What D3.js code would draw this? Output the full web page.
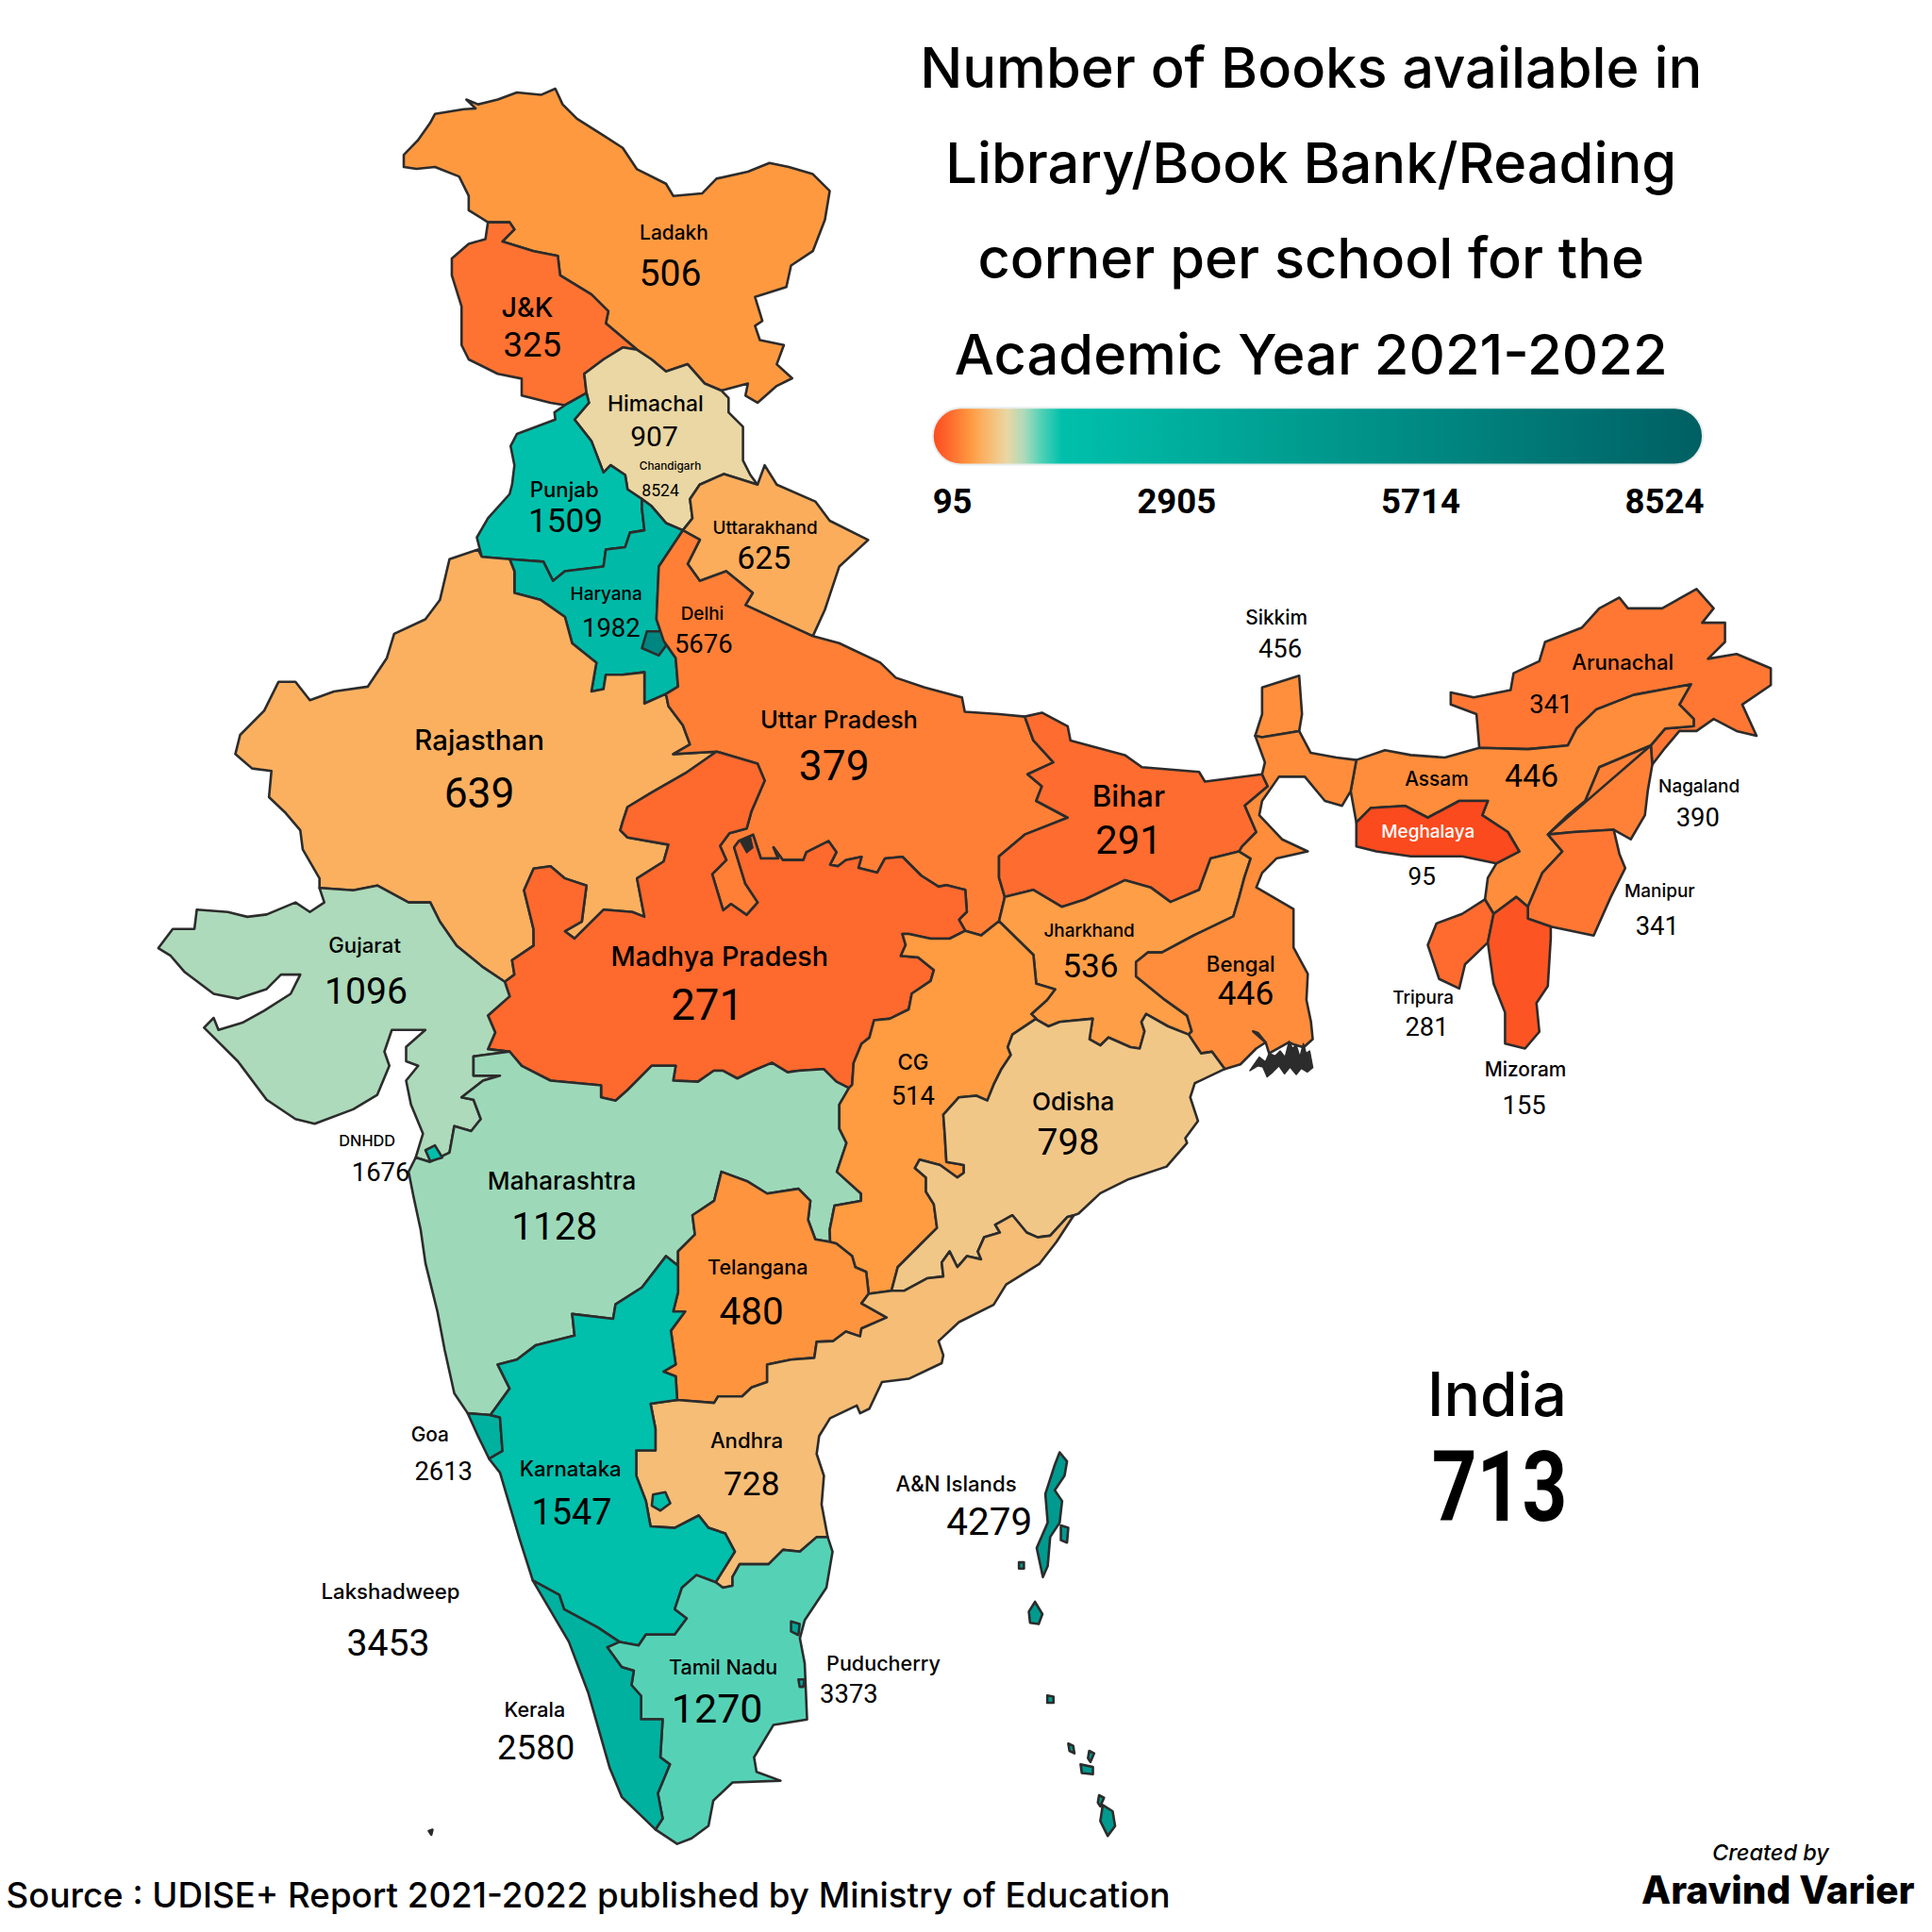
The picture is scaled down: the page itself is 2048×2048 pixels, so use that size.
<!DOCTYPE html>
<html><head><meta charset="utf-8">
<script src="https://cdn.jsdelivr.net/npm/d3@7"></script>
<style>html,body{margin:0;background:#fff}svg{display:block}text{font-family:Inter,Lato,sans-serif;fill:#000;font-weight:500}text.num{font-family:Roboto,Lato,sans-serif;font-weight:400}</style>
</head><body><div id="c"></div>
<script>
// ---------- data ----------
const regions=["Ladakh","J&K","Himachal","Chandigarh","Punjab","Uttarakhand","Haryana","Delhi","Rajasthan","Uttar Pradesh","Sikkim","Arunachal","Assam","Nagaland","Meghalaya","Manipur","Bihar","Jharkhand","Bengal","Tripura","Mizoram","Madhya Pradesh","Gujarat","Maharashtra","CG","Odisha","Telangana","DNHDD","Goa","Andhra","Karnataka","Lakshadweep","A&N Islands","Tamil Nadu","Puducherry","Kerala"];
const books=[506,325,907,8524,1509,625,1982,5676,639,379,456,341,446,390,95,341,291,536,446,281,155,271,1096,1128,514,798,480,1676,2613,728,1547,3453,4279,1270,3373,2580];
const legendTicks=[95,2905,5714,8524];
const colorStops=[95,300,510,640,907,1096,1270,1509,8524];
const colorRange=["#fb4a1e","#ff6e30","#ff9a40","#fbb060","#ead7a3","#addaba","#55d2b6","#00c0ab","#005f63"];
const titleLines=["Number of Books available in","Library/Book Bank/Reading","corner per school for the","Academic Year 2021-2022"];
const indiaValue=713;

// ---------- boundary arcs, in map units ----------
const LA_OUT=[[396,180.4],[380.4,170.6],[380.4,159],[372.6,143.3],[353,135.5],[338,137],[327.7,135.5],[327.7,125.7],[339,114],[349,100],[353,92.5],[376.5,88.6],[386,88],[378.5,80.8],[388,84.7],[404,80.8],[419.5,75],[439,77],[450.7,72],[456.6,84.7],[468.3,96.4],[489.8,110],[505.4,120],[517,137.4],[540.5,149.1],[546.4,159],[569.8,157],[581.5,145],[607,139.4],[624.5,132.3],[640.2,135.5],[659.7,141.3],[673.4,155],[669.5,178.4],[659.7,203.8],[642,215.5],[638.2,233],[612.8,241],[618.7,260.5],[612.8,264.4],[616.7,276],[636.2,280],[630.4,295.6],[642.9,307],[630.4,313.2],[614.8,326.9],[605,321],[607,311.2],[585.5,317]];
const LA_HP=[[585.5,317],[571.8,311.2],[558.1,295.6],[540.5,301.5],[528.8,291.7],[517.1,283.9]];
const LA_JK=[[517.1,283.9],[491.7,262.4],[493.7,252.6],[480,239],[454.6,223.4],[452.7,207.7],[433.1,203.8],[407.8,196],[417.5,186.2],[413.6,180.4],[396,180.4]];
const JK_OUT=[[396,180.4],[394,194],[380.4,198],[366.7,209.7],[366.7,223.4],[374.6,248.7],[374.6,280],[380.4,291.7],[403.9,303.4],[423.4,307.3],[423.4,321],[446.8,326.9],[458.5,328.8]];
const JK_PB=[[458.5,328.8],[476,319]];
const JK_HP=[[476,319],[474.2,303.4],[489.8,291.7],[505.4,282],[517.1,283.9]];
const HP_EAST=[[585.5,317],[591.3,323],[591.3,334.7],[603,346.4],[603,373.7],[609,385.5],[614.8,393.3]];
const HP_UK=[[614.8,393.3],[587.5,384.7],[567.9,393.3],[560,405],[562,420.6],[554.2,430.4]];
const HP_HR=[[554.2,430.4],[540.5,424.5],[528.8,410.8],[521,405]];
const HP_PB=[[521,405],[509.3,397.2],[507.4,385.5],[495.6,377.6],[489.8,383.5],[480,358],[466.3,340.5],[478,326.9],[476,319]];
const PB_HR=[[521,405],[521,412.8],[523,430.4],[511.3,432.3],[507.4,444],[491.7,446],[489.8,459.7],[458.5,463.6],[448.8,471.4],[441,455.8],[413.6,453.8]];
const PB_RJ=[[413.6,453.8],[391,451.9]];
const PB_OUT=[[391,451.9],[387,436.2],[396,420.6],[413.6,401],[415.6,393.3],[417.5,377.6],[414.4,362],[419.5,352.2],[450.7,340.5],[450,334.7],[458.5,328.8]];
const HR_RJ=[[413.6,453.8],[417.5,463.6],[417.5,481.2],[439,487],[458.5,500.7],[464.4,522.2],[484,537.8],[480,561.2],[489.8,559.3],[491.7,547.6],[505.4,547.6],[523,545.6],[523,571],[540.5,563.2]];
const HR_UP=[[540.5,563.2],[550.3,557.3],[548.4,534],[538.6,520],[532.8,502.6],[534.7,459.7],[554.2,430.4]];
const RJ_OUT=[[391,451.9],[388,446],[364.8,453.8],[357,487],[345.2,502.6],[319.9,514.4],[314,534],[298.4,557.3],[271,561.2],[251.5,568.3],[239.8,553.4],[226,553.4],[214.4,576.8],[194.9,596.4],[191,612],[204.6,623.7],[220.3,625.7],[218.3,647],[232,660],[243.7,673.8],[245.7,689.4],[259.3,712.9],[259.3,720.7]];
const RJ_GJ=[[259.3,720.7],[286.7,722.6],[306.2,718.7],[331.6,732.4],[349.2,732.4],[357,748],[370.6,767.5],[392.1,785.1],[409.7,796.8]];
const RJ_MP=[[409.7,796.8],[417.5,791],[415.6,779.3],[433.1,767.5],[433,754],[425.3,722.6],[433.1,705],[446.8,703],[458.5,712.9],[476,718.7],[472.2,748],[458.5,755.8],[466.3,761.7],[489.8,738.3],[513.2,740.2],[523,744.1],[517,712.9],[538.6,699.2],[542.5,685.5],[509.3,679.7],[503.4,673.8],[505.4,666.7],[509.3,655],[528.8,643.3],[556.2,627.6],[581.5,610]];
const RJ_UP=[[581.5,610],[546.4,612],[560,604.2],[554.2,588.6],[542.5,573],[540.5,563.2]];
const UK_OUT=[[614.8,393.3],[620.6,377.6],[630.4,393.3],[661.7,407],[673.4,422.6],[704.6,438.2],[681.2,459.7],[673.4,483],[669.5,494.8],[659.7,516.3]];
const UK_UP=[[659.7,516.3],[634.3,504.6],[605,491],[610.9,481.2],[589.4,463.6],[568,471.4],[558.1,457.7],[568,438],[554.2,430.4]];
const UP_N=[[659.7,516.3],[681,522],[714.4,537.8],[727,550],[750.5,558],[780.7,566],[783,577.7],[810.8,579.6],[831.7,581.6]];
const UP_BR=[[831.7,581.6],[838.7,601],[854.9,618.7],[834,628.4],[845.6,638.2],[841,650],[866.5,663.6],[831.7,677.3],[810.8,695],[810.8,712.4],[815.5,728]];
const UP_JH=[[815.5,728],[810.8,747.6]];
const UP_CG=[[810.8,747.6],[796.2,759.2],[783.4,755.4]];
const UP_MP=[[783.4,755.4],[778.3,746.4],[784.7,740],[783.4,722.2],[768.1,718.4],[761.7,719.6],[747.7,710.7],[732.4,695.4],[718.3,696.7],[712,708.2],[696.7,704.3],[699.2,695.4],[686.5,698],[680,703],[673.7,701.8],[678.8,691.6],[672.4,682.6],[654.5,691.6],[652,698],[635.4,698],[627.8,687.7],[631.6,696.7],[617.5,696.7],[611.2,677.5],[599.7,682.6],[595.8,687.7],[604.8,717],[615,732.4],[606,742.6],[593.3,733.7],[586.9,738.8],[578,709.4],[589.5,698],[584.4,686.5],[592,676.3],[606,672.4],[609.9,658.4],[620.6,633.5],[614.8,619.8],[581.5,610]];
const MP_CG=[[783.4,755.4],[770.7,761.8],[755.3,761.8],[737.5,758],[732.4,758],[735,766.9],[731.1,775.8],[745.1,777],[757.9,787.3],[755.3,796.2],[740,806.4],[737.5,819.2],[722.2,826.8],[709.4,828],[705.6,842.1],[699.2,847.2],[692.8,862.6],[691.6,880.4],[689,883]];
const MP_MH=[[689,883],[678.8,877.9],[668.6,867.7],[648.2,869],[639.2,870.2],[626.5,862.6],[611.2,869],[598.4,875.3],[586.9,869],[579.3,869],[566.5,877.9],[546.4,877],[548.4,865],[528.8,865],[509.3,884.7],[499.6,893.3],[487.8,890.6],[487.8,880.8],[446.8,877],[423.4,865],[413.6,853.5]];
const MP_GJ=[[413.6,853.5],[396,851.5],[401.9,837.9],[396,824.2],[413.6,808.6],[409.7,796.8]];
const BR_N=[[831.7,581.6],[845.6,578.4],[866.5,589.4],[868.8,601],[912.9,612.8],[926.8,622.6],[973.2,626.5],[977.9,634.3],[1024.3,628.4]];
const BR_WB=[[1024.3,628.4],[1028.9,638.2],[1010.3,653.8],[1019.6,675.3],[1008,687],[1005.7,691]];
const BR_JH=[[1005.7,691],[982.5,696.8],[973.2,722.2],[950,732],[933.8,720.2],[912.9,714.4],[880.4,730],[861.9,736],[838.7,722.2],[815.5,728]];
const JH_WB=[[1005.7,691],[1015,696.8],[1010,712],[1005.7,728],[1001,743.7],[968.6,759.3],[943,773],[931.5,773],[922,780.8],[922,792.5],[945.5,811.5],[963.4,824.3],[967.2,837],[964.6,839.6]];
const JH_OD=[[964.6,839.6],[948,833],[930.2,823],[926.4,829.4],[928.9,837],[925,851],[917.4,849.8],[899.6,842],[893,848.5],[884.2,843.4],[886.8,826.8],[860,829.4],[851,833],[842,828],[840.9,826.8]];
const CG_JH=[[840.9,826.8],[837,823],[849.8,811.5],[856.3,803],[841,798.4],[838.7,775],[810.8,747.6]];
const CG_OD=[[840.9,826.8],[821.7,839.6],[817.9,849.8],[820.4,856.2],[812.8,867.6],[806.4,880.4],[801.3,893.2],[792.4,889.3],[778.3,890.6],[765.6,904.6],[766.8,921.2],[768.1,943],[782.2,945.5],[782.2,951.9],[777,955.7],[763,945.5],[746.4,941.1],[742.6,948],[751.5,955.7],[751.5,967.2],[757.9,977.4],[760.5,996.5],[746.4,1010.6],[728.6,1028.4],[723.5,1047.6]];
const CG_AP=[[723.5,1047.6],[705,1050]];
const CG_TS=[[705,1050],[703,1032.2],[694.1,1028.4],[691.6,1019.5],[678.8,1009.3],[673.7,1008]];
const CG_MH=[[673.7,1008],[673.4,998],[677.3,978.5],[698.8,974.6],[698.8,968.7],[679.2,951],[687,927.7],[681.2,916],[681.2,896.4],[689,883]];
const OD_WB=[[964.6,839.6],[974.8,854.9],[983.7,853.6],[994,867.6]];
const OD_COAST=[[994,867.6],[969.7,879.1],[966,890.6],[972.3,909.8],[962,923.8],[963.4,927.6],[946.8,946.8],[916.1,957],[893,968.4],[875.3,985],[871.5,986.3]];
const OD_AP=[[871.5,986.3],[866.4,987.6],[852.3,1002.9],[842.1,1004.2],[833.2,1000.3],[821.7,986.3],[807.7,994],[811.5,1000.3],[798.7,1004.2],[793.6,1015.7],[796.2,1022],[784.7,1019.5],[777,1028.4],[770.7,1015.7],[764.3,1024.6],[765.6,1036],[752.8,1037.4],[733.7,1047.6],[723.5,1047.6]];
const GJ_OUT=[[259.3,720.7],[263.2,732.4],[251.5,740.2],[239.8,732.4],[216.4,742.2],[200.7,744.1],[185,740.2],[159.7,738.3],[157.8,753.9],[140.2,753.9],[128.5,769.5],[138.2,775.4],[150,789],[173.4,806.6],[193,810.5],[216.4,802.7],[228,791],[243.7,791],[235.9,806.6],[214.4,820.3],[196.8,830],[177.3,835.9],[173.4,826.1],[165.6,834],[193,861.3],[216.4,892.5],[239.8,908.2],[255.4,912],[286.7,900.3],[306.2,888.6],[316,865],[312,853.5],[318,835.9],[345.2,835.9],[329.6,849.6],[329.6,861.3],[339.4,865],[329.6,877],[333.5,896.4],[343.3,920],[337.4,939.4]];
const GJ_MH=[[337.4,939.4],[349,943],[364.8,935.5],[368.7,914],[382.4,918],[390.2,908.2],[384.3,892.5],[374.6,890.6],[392.1,877],[405.8,873],[384.3,873],[384.3,857.4],[413.6,853.5]];
const MH_COAST=[[337.4,939.4],[331.6,951],[335.5,970.7],[341.4,998],[345.3,1025.3],[355,1064.4],[360.9,1095.6],[368.7,1130.8],[379.6,1147]];
const MH_GOA=[[379.6,1147],[398,1148.4]];
const MH_KA=[[398,1148.4],[413.6,1126.9],[403.9,1107.4],[419.5,1103.5],[435,1091.7],[466.3,1084],[464.4,1066.4],[497.6,1070.3],[499.6,1058.5],[521,1044.9],[540.5,1019.5],[550.3,1027.3]];
const MH_TS=[[550.3,1027.3],[550.3,1015.6],[564,1001.9],[562,986.3],[579.6,974.6],[585.5,951],[607,959],[622.6,968.7],[648,964.8],[657.7,974.6],[655.8,990],[661.7,1005.8],[673.7,1008]];
const GOA_E=[[398,1148.4],[405.8,1150.4],[407.8,1177.7],[397,1184]];
const GOA_C=[[397,1184],[388.2,1166],[379.6,1147]];
const KA_COAST=[[397,1184],[405.8,1195.2],[421.4,1248],[432.4,1282.7]];
const KA_KL=[[432.4,1282.7],[453.9,1294.4],[457.8,1306],[485.1,1320.8],[502.7,1332.5]];
const KA_TN=[[502.7,1332.5],[518.3,1335.4],[524.2,1326.6],[547.6,1326.6],[557.4,1313.4],[547.6,1306],[553.5,1288.5],[565.2,1278.3],[580.8,1284.2]];
const KA_AP=[[580.8,1284.2],[596.4,1259.3],[588.6,1244.6],[575,1240],[567.1,1230],[547.6,1240],[528,1238.8],[524.2,1218.2],[516.4,1197.7],[516.4,1177.2],[532,1177.2],[532,1159.7],[528,1139.2],[549.6,1136.2]];
const TS_KA=[[550.3,1027.3],[550.3,1048.8],[546.4,1064.4],[556,1064.4],[544.5,1080],[548.4,1107.4],[538.6,1113.2],[548.4,1117],[549.6,1136.2]];
const TS_AP=[[549.6,1136.2],[579.6,1138.6],[582.8,1133.3],[602.3,1133.3],[610,1126],[622.6,1121.6],[622.6,1107.4],[642,1103.5],[660.9,1102],[662.8,1089],[676.3,1088.4],[686.5,1080.7],[698,1084.6],[699.2,1078.2],[719.6,1069.3],[699.2,1057.8],[705,1050]];
const AP_COAST=[[871.5,986.3],[857.4,1008],[843.4,1025.9],[816.6,1042.5],[806.4,1059],[778.3,1073],[761.7,1088.4],[765.6,1099.9],[764.3,1106.3],[737.5,1119],[715.8,1121.6],[705.6,1143.3],[698,1147],[695.4,1140.7],[673.7,1151],[664.8,1165.5],[662.8,1180],[668.7,1197.7],[666.8,1221],[671.8,1247.5]];
const AP_TN=[[671.8,1247.5],[662.8,1247.5],[649.2,1259.3],[635.5,1257.8],[623.8,1269.5],[600.3,1269.5],[594.5,1279.8],[594.5,1287],[586.7,1288.5],[580.8,1284.2]];
const TN_COAST=[[671.8,1247.5],[675.7,1259.3],[670.7,1288.5],[653.1,1315],[649.2,1329.6],[653.1,1350],[655,1395.5],[627.7,1400],[612,1426.2],[614,1438],[633.5,1445.2],[594.5,1446.7],[578.9,1461.4],[575,1481.9],[561.3,1492],[549.6,1496.5],[532,1484.8]];
const KL_TN=[[502.7,1332.5],[492.9,1336.9],[504.6,1353],[514.4,1356],[512.5,1367.6],[520.3,1376.4],[520.3,1395.4],[537.8,1395.4],[535.9,1426.2],[543.7,1432],[533.9,1455.5],[537.8,1476],[532,1484.8]];
const KL_COAST=[[432.4,1282.7],[461.7,1332.5],[477.3,1373.5],[494.9,1435],[504.6,1458.4],[532,1484.8]];
const WB_NW=[[1024.3,628.4],[1026.6,618.7],[1018.7,597.2]];
const SK_WB=[[1018.7,597.2],[1024.3,598.4],[1054.4,593.3]];
const SK_OUT=[[1054.4,593.3],[1056.7,579.6],[1054.4,548.4],[1024.3,558],[1024.3,579.6],[1018.7,597.2]];
const WB_N=[[1054.4,593.3],[1063.7,610.9],[1084.6,614.8],[1100.8,616.8]];
const WB_AS=[[1100.8,616.8],[1096.2,642]];
const WB_S=[[1096.2,642],[1089.2,654],[1075.3,650],[1059,630.4],[1038,630.4],[1024.3,650],[1022,661.6],[1040.5,681.2],[1061.4,691],[1035.9,696.8],[1024.3,708.5],[1019.6,720.2],[1049.8,737.8],[1049.8,769],[1061.4,790.5],[1060.3,811.5],[1064,829.4],[1065.4,843.4],[1058,850],[1051,848],[1046,846],[1030,855],[1027.2,846],[1020.8,838.3],[1017,837],[1027.2,846],[1019.5,851],[1006.7,863.8],[994,867.6]];
const AS_N=[[1100.8,616.8],[1124,608.9],[1145,612.8],[1172.7,614.8],[1200.6,607]];
const AS_AR=[[1200.6,607],[1240,608],[1272.5,605],[1279.5,591.3],[1295.7,575.7],[1325.9,564],[1372.3,555.4],[1363,571.8],[1374.6,583.5],[1374.6,589.4],[1351.4,591.3],[1339.8,605]];
const AR_OUT=[[1200.6,607],[1198.3,579.6],[1177.4,571.8],[1177.4,562],[1196,566],[1226,560],[1228.4,546.4],[1249.3,536.6],[1254,521],[1284,509.3],[1298,493.7],[1314.3,485],[1321.2,493.7],[1349,493.7],[1376.9,478],[1390.8,493.7],[1381.5,505.4],[1400,505.4],[1400,521],[1386.2,534.7],[1409.4,530.8],[1437.2,542.5],[1437.2,556],[1414,571.8],[1425.6,597.2],[1409.4,593.3],[1390.8,583.5],[1376.9,593.3],[1363,593.3],[1351.4,607],[1341,620.6],[1339.8,605]];
const AS_NL=[[1339.8,605],[1298,622.6],[1286.6,650],[1272.5,661.6],[1256.3,677.3]];
const AS_MN=[[1256.3,677.3],[1268,691],[1251.7,708.5],[1240,736]];
const AS_MZ=[[1240,736],[1230.6,728],[1212.2,741.7]];
const AS_TR=[[1212.2,741.7],[1205.2,730]];
const AS_SW=[[1205.2,730],[1207.5,712.5],[1214.5,700.7]];
const ML_AS=[[1214.5,700.7],[1233,691],[1223.8,675.3],[1203,661.6],[1207.5,650],[1184.3,650],[1158.8,663.6],[1140.3,654],[1112.4,655.8],[1100.8,667.5]];
const ML_S=[[1100.8,667.5],[1100.8,687],[1117,691],[1145,695],[1186.7,695],[1214.5,700.7]];
const TR_OUT=[[1205.2,730],[1186.7,741.7],[1165.8,749.5],[1158.8,767],[1168,794.5],[1184.3,802.3],[1189,782.7],[1207.5,765],[1212.2,741.7]];
const MZ_OUT=[[1240,736],[1240,745.6],[1258.6,752],[1258.6,761.2],[1256.2,800.3],[1247,814],[1249.3,837.4],[1237.7,851],[1221.5,847],[1221.5,821.8],[1212.2,798.4],[1207.5,765],[1212.2,741.7]];
const MN_OUT=[[1256.3,677.3],[1277.2,675.3],[1309.7,673.4],[1314.3,693],[1319,704.6],[1307.3,728],[1293.4,759.3],[1258.6,752],[1240,745.6],[1240,736]];
const NL_OUT=[[1256.3,677.3],[1277.2,675.3],[1309.7,673.4],[1323.5,681.2],[1335,661.6],[1337.3,642],[1341,620.6],[1339.8,605]];
const AN_MAIN=[[860,1178.7],[866,1186],[864,1197.7],[856,1209.5],[862,1218.2],[860,1235.8],[852.3,1247.5],[850.3,1271],[846.4,1280],[841.4,1256.3],[850.3,1235.8],[848.4,1212.4],[856,1189]];
const AN_RITCHIE=[[861,1238],[867,1240],[866,1252],[861,1250]];
const AN_BARREN=[[827,1268],[831,1268],[831,1273],[827,1273]];
const AN_LITTLE=[[840,1300],[846,1310],[843,1318],[836,1317],[835,1308]];
const NI_CAR=[[850,1376],[855,1377],[855,1382],[850,1382]];
const NI_A=[[867,1415],[871,1417],[872,1423],[868,1421]];
const NI_B=[[884,1421],[888,1423],[885,1430],[883,1427]];
const NI_C=[[877,1432],[887,1434],[887,1440],[878,1439]];
const NI_GREAT=[[895,1465],[903,1470],[905,1482],[899,1490],[893,1478]];
const NI_LITTLE=[[892,1457],[896,1459],[893,1466],[891,1463]];
const DELHI_R=[[525,512.4],[538.6,512.4],[540.5,524],[534.7,532],[521,526]];
const CHD_R=[[513,410],[518,410],[518,415],[513,415]];
const DNH_R=[[345.3,933.5],[353,929.6],[359,939.4],[349.2,942.5]];
const PUD_A=[[642,1316],[649,1318],[648,1327],[642,1324]];
const PUD_B=[[648,1363],[653,1363],[652,1369],[649,1369]];
const LAK_R=[[348,1486],[351,1485],[350,1489]];
const KA_ENCLAVE=[[530,1213],[540,1211],[544,1220],[536,1226],[529,1222]];
const DELTA=[[1022,858],[1027,862],[1030,855],[1035,857],[1039,853],[1043,858],[1046.3,845],[1049,851],[1052,848],[1055,858],[1057.8,847],[1060,855],[1062.9,853],[1065.4,866.4],[1061,870],[1056,867],[1052,872],[1047,866],[1042.5,871.5],[1038,865],[1033,870],[1028.4,874],[1025,866],[1020.8,865],[1014.4,868.9]];
const SQUIGGLE=[[601,683],[609,679],[611,688],[606,692]];

const r=a=>a.slice().reverse();
const ring=(...arcs)=>{const o=[];arcs.forEach(a=>a.forEach(p=>o.push(p)));o.push(o[0]);return o;};
const shapes={
 "Ladakh":[ring(LA_OUT,LA_HP,LA_JK)],
 "J&K":[ring(JK_OUT,JK_PB,JK_HP,LA_JK)],
 "Himachal":[ring(r(LA_HP),HP_EAST,HP_UK,HP_HR,HP_PB,JK_HP)],
 "Chandigarh":[ring(CHD_R)],
 "Punjab":[ring(r(HP_PB),PB_HR,PB_RJ,PB_OUT,JK_PB)],
 "Uttarakhand":[ring(UK_OUT,UK_UP,r(HP_UK))],
 "Haryana":[ring(HR_RJ,HR_UP,HP_HR,PB_HR)],
 "Delhi":[ring(DELHI_R)],
 "Rajasthan":[ring(RJ_OUT,RJ_GJ,RJ_MP,RJ_UP,r(HR_RJ),PB_RJ)],
 "Uttar Pradesh":[ring(r(UK_UP),UP_N,UP_BR,UP_JH,UP_CG,UP_MP,RJ_UP,HR_UP)],
 "Sikkim":[ring(SK_WB,SK_OUT)],
 "Arunachal":[ring(AR_OUT,r(AS_AR))],
 "Assam":[ring(AS_N,AS_AR,AS_NL,AS_MN,AS_MZ,AS_TR,AS_SW,ML_AS,r(WB_AS))],
 "Nagaland":[ring(NL_OUT,r(AS_NL))],
 "Meghalaya":[ring(ML_AS,ML_S)],
 "Manipur":[ring(MN_OUT,r(AS_MN))],
 "Bihar":[ring(BR_N,BR_WB,BR_JH,r(UP_BR))],
 "Jharkhand":[ring(r(BR_JH),JH_WB,JH_OD,CG_JH,r(UP_JH))],
 "Bengal":[ring(r(JH_WB),r(BR_WB),WB_NW,SK_WB,WB_N,WB_AS,WB_S,r(OD_WB))],
 "Tripura":[ring(TR_OUT,AS_TR)],
 "Mizoram":[ring(MZ_OUT,r(AS_MZ))],
 "Madhya Pradesh":[ring(RJ_MP,r(UP_MP),MP_CG,MP_MH,MP_GJ)],
 "Gujarat":[ring(GJ_OUT,GJ_MH,MP_GJ,r(RJ_GJ))],
 "Maharashtra":[ring(MH_COAST,MH_GOA,MH_KA,MH_TS,CG_MH,MP_MH,r(GJ_MH))],
 "CG":[ring(r(MP_CG),r(UP_CG),r(CG_JH),CG_OD,CG_AP,CG_TS,CG_MH)],
 "Odisha":[ring(r(JH_OD),OD_WB,OD_COAST,OD_AP,r(CG_OD))],
 "Telangana":[ring(MH_TS,r(CG_TS),r(TS_AP),r(TS_KA))],
 "DNHDD":[ring(DNH_R)],
 "Goa":[ring(MH_GOA,GOA_E,GOA_C)],
 "Andhra":[ring(TS_AP,r(CG_AP),r(OD_AP),AP_COAST,AP_TN,KA_AP)],
 "Karnataka":[ring(r(MH_KA),GOA_E,KA_COAST,KA_KL,KA_TN,KA_AP,r(TS_KA)),ring(KA_ENCLAVE)],
 "Lakshadweep":[ring(LAK_R)],
 "A&N Islands":[ring(AN_MAIN),ring(AN_RITCHIE),ring(AN_BARREN),ring(AN_LITTLE),ring(NI_CAR),ring(NI_A),ring(NI_B),ring(NI_C),ring(NI_GREAT),ring(NI_LITTLE)],
 "Tamil Nadu":[ring(KA_TN,r(AP_TN),TN_COAST,r(KL_TN))],
 "Puducherry":[ring(PUD_A),ring(PUD_B)],
 "Kerala":[ring(KL_COAST,r(KL_TN),r(KA_KL))]
};

// ---------- layout (reference units; 1568 units span the 2048 px page) ----------
const k=2048/1568;
const nameLayout={"Ladakh":[547,189,16],"J&K":[428,249,22],"Himachal":[532,328,17.5],"Chandigarh":[544,378,9],"Punjab":[458,397,17],"Uttarakhand":[621,428,14.5],"Haryana":[492,482,14.5],"Delhi":[570,498,14.5],"Rajasthan":[389,601,22.5],"Uttar Pradesh":[681,584,19.5],"Sikkim":[1036,501,16],"Arunachal":[1317,537,17],"Assam":[1166,632,16],"Nagaland":[1379,638,14.5],"Meghalaya":[1159,675,14.5],"Manipur":[1347,723,14.5],"Bihar":[916,646,24],"Jharkhand":[884,755,14.5],"Bengal":[1007,782,17],"Tripura":[1155,810,14.5],"Mizoram":[1238,868,16],"Madhya Pradesh":[584,776,22],"Gujarat":[296,767,17],"Maharashtra":[456,958,20],"CG":[741,862,17],"Odisha":[871,894,20],"Telangana":[615,1028,16.5],"DNHDD":[298,926,12.5],"Goa":[349,1164,16],"Andhra":[606,1169,17],"Karnataka":[463,1192,17],"Lakshadweep":[317,1291,17],"A&N Islands":[776,1204,17],"Tamil Nadu":[587,1353,16.5],"Puducherry":[717,1350,16.5],"Kerala":[434,1387,16.5]};
const valueLayout={"Ladakh":[544,222,30],"J&K":[432,280,28],"Himachal":[531,354,23],"Chandigarh":[536,398,13.5],"Punjab":[459,423,27],"Uttarakhand":[620,453,26],"Haryana":[496,510,21],"Delhi":[571,523,21],"Rajasthan":[389,644,34],"Uttar Pradesh":[677,622,34],"Sikkim":[1039,527,21],"Arunachal":[1259,572,21],"Assam":[1243,630,26],"Nagaland":[1378,664,21],"Meghalaya":[1154,711,20],"Manipur":[1345,752,21],"Bihar":[916,682,32],"Jharkhand":[885,784,27],"Bengal":[1011,806,27],"Tripura":[1158,834,21],"Mizoram":[1237,897,21],"Madhya Pradesh":[574,816,35],"Gujarat":[297,805,30],"Maharashtra":[450,995,31],"CG":[741,890,21],"Odisha":[867,927,30],"Telangana":[610,1064,31],"DNHDD":[309,952,21],"Goa":[360,1194,21],"Andhra":[610,1204,27],"Karnataka":[464,1227,29],"Lakshadweep":[315,1334,30],"A&N Islands":[803,1235,31],"Tamil Nadu":[582,1387,33],"Puducherry":[689,1375,21],"Kerala":[435,1418,28]};
const titleY=[54,132,209,287];
const legendTickX=[773,955,1153,1351];

// ---------- scales ----------
const color=d3.scaleLinear().domain(colorStops).range(colorRange).interpolate(d3.interpolateRgb);
const barX=d3.scaleLinear().domain([95,8524]).range([0,100]);

const svg=d3.select("#c").append("svg").attr("width",2048).attr("height",2048).attr("viewBox","0 0 2048 2048");
const path=d3.geoPath(d3.geoIdentity().scale(k));
const features=regions.map((n,i)=>{const s=shapes[n];return {type:"Feature",properties:{name:n,value:books[i]},geometry:s.length>1?{type:"MultiPolygon",coordinates:s.map(x=>[x])}:{type:"Polygon",coordinates:s}};});

const g=svg.append("defs").append("linearGradient").attr("id","lg");
colorStops.forEach((v,i)=>g.append("stop").attr("offset",barX(v)+"%").attr("stop-color",colorRange[i]));

// map
svg.append("g").selectAll("path").data(features).join("path")
  .attr("d",path).attr("fill",d=>color(d.properties.value))
  .attr("stroke","#2c2c2c").attr("stroke-width",2.6).attr("stroke-linejoin","round");
// Sundarbans and fine boundary detail, solid dark in the reference
[DELTA,SQUIGGLE].forEach(a=>svg.append("path").attr("d",path({type:"Polygon",coordinates:[ring(a)]})).attr("fill","#2c2c2c").attr("stroke","#2c2c2c").attr("stroke-width",1.5).attr("stroke-linejoin","round"));

const T=(x,y,s,txt,cls)=>svg.append("text").attr("class",cls||null).attr("x",x*k).attr("y",y*k).attr("font-size",s*k).attr("text-anchor","middle").attr("dominant-baseline","central").text(txt);
regions.forEach((n,i)=>{
  const a=nameLayout[n],b=valueLayout[n];
  const t=T(a[0],a[1],a[2],n); if(n==="Meghalaya") t.style("fill","#fff");
  T(b[0],b[1],b[2],books[i],"num");
});

// title
titleLines.forEach((l,i)=>T(1064,titleY[i],45.6,l));
// legend
svg.append("rect").attr("x",757*k).attr("y",331*k).attr("width",625*k).attr("height",46*k).attr("rx",23*k)
  .attr("fill","url(#lg)").attr("stroke","#e8eeee").attr("stroke-width",2);
legendTicks.forEach((v,i)=>T(legendTickX[i],407,28,v,"num").style("font-weight",700));
// India
T(1215,1131,49,"India");
T(1217,1207,80,indiaValue,"num").style("font-weight",700).attr("textLength",110*k).attr("lengthAdjust","spacingAndGlyphs");
// source, credit
svg.append("text").attr("x",5*k).attr("y",1538*k).attr("font-size",28.1*k).attr("dominant-baseline","central").text("Source : UDISE+ Report 2021-2022 published by Ministry of Education");
T(1437,1503,18,"Created by").style("font-style","italic");
T(1443,1534,31,"Aravind Varier").style("font-weight",800);
</script></body></html>
